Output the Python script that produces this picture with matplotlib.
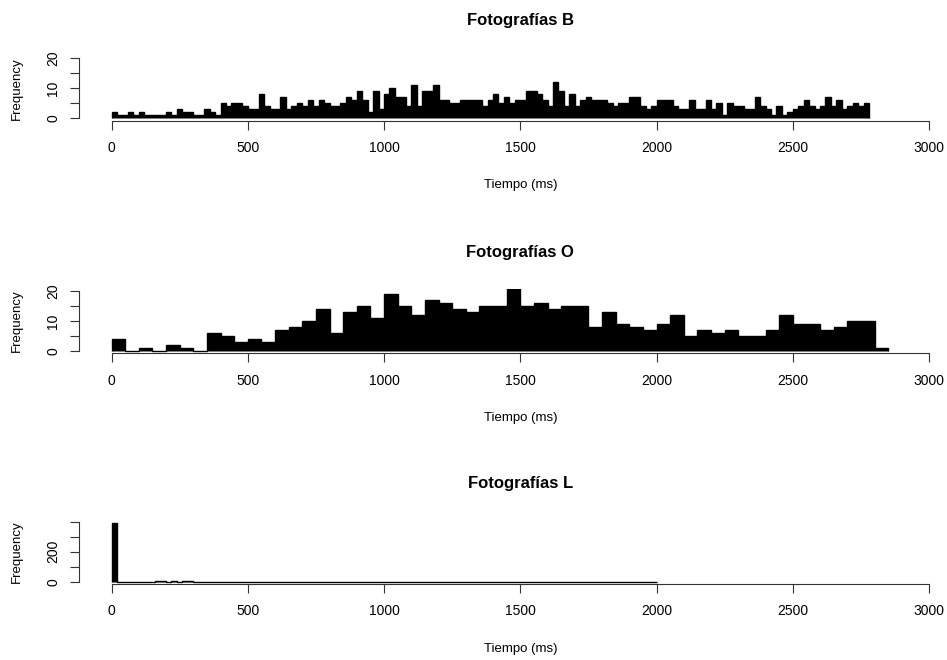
import numpy as np
import matplotlib
matplotlib.use("Agg")
import matplotlib.pyplot as plt

plt.rcParams['font.family'] = ['Liberation Sans', 'DejaVu Sans']

# conteos de cada histograma
ancho_b = 20
frec_b = [2, 1, 1, 2, 1, 2, 1, 1, 1, 1, 2, 1, 3, 2, 2, 1, 1, 3, 2, 1, 5, 4, 5, 5, 4,
          3, 3, 8, 4, 3, 3, 7, 3, 4, 5, 4, 6, 4, 6, 5, 4, 4, 5, 7, 6, 9, 6, 2, 9, 3,
          8, 10, 7, 7, 4, 11, 4, 9, 9, 11, 6, 6, 5, 5, 6, 6, 6, 6, 4, 6, 8, 5, 7, 5,
          6, 6, 9, 9, 8, 6, 4, 12, 9, 4, 8, 4, 6, 7, 6, 6, 6, 5, 4, 5, 5, 7, 7, 4, 3, 4,
          6, 6, 6, 4, 3, 3, 6, 3, 3, 6, 3, 5, 1, 5, 4, 4, 3, 3, 7, 4, 3, 1, 4, 1, 2,
          3, 4, 6, 4, 3, 4, 7, 4, 6, 3, 4, 5, 4, 5]

ancho_o = 50
frec_o = [4, 0, 1, 0, 2, 1, 0, 6, 5, 3, 4, 3, 7, 8, 10, 14, 6, 13, 15, 11,
          19, 15, 12, 17, 16, 14, 13, 15, 15, 21, 15, 16, 14, 15, 15, 8, 13, 9, 8, 7,
          9, 12, 5, 7, 6, 7, 5, 5, 7, 12, 9, 9, 7, 8, 10, 10, 1]

ancho_l = 20
frec_l = [390, 0, 0, 0, 0, 0, 0, 0, 8, 8, 0, 6, 0, 8, 8] + [0] * 85

titulos = ["Fotografías B", "Fotografías O", "Fotografías L"]
xticks = [0, 500, 1000, 1500, 2000, 2500, 3000]
yticks_bo = [0, 5, 10, 15, 20]
ylab_bo = ["0", "", "10", "", "20"]
yticks_l = [0, 100, 200, 300, 400]
ylab_l = ["0", "", "200", "", ""]

W, H = 947, 660
fig = plt.figure(figsize=(W / 100, H / 100), dpi=100)

izq, der = 78.8, 961.7
alto = 64.8
fondos = [120.7, 353.4, 584.1]

paneles = [(frec_b, ancho_b, 20, yticks_bo, ylab_bo),
           (frec_o, ancho_o, 20, yticks_bo, ylab_bo),
           (frec_l, ancho_l, 400, yticks_l, ylab_l)]

for i, (frec, ancho, ymax, yt, yl) in enumerate(paneles):
    ax = fig.add_axes([izq / W, 1 - fondos[i] / H, (der - izq) / W, alto / H])
    bordes = np.arange(len(frec) + 1) * ancho
    ax.stairs(frec, bordes, fill=True, facecolor='black', edgecolor='black',
              linewidth=1.0)
    ax.set_xlim(-0.04 * 3000, 3000 * 1.04)
    ax.set_ylim(-0.04 * ymax, ymax * 1.04)
    for s in ['top', 'right']:
        ax.spines[s].set_visible(False)
    ax.spines['bottom'].set_bounds(0, 3000)
    ax.spines['left'].set_bounds(0, ymax)
    ax.spines['bottom'].set_color('#333333')
    ax.spines['left'].set_color('#333333')
    ax.set_xticks(xticks)
    ax.set_xticklabels([str(t) for t in xticks])
    ax.set_yticks(yt)
    ax.set_yticklabels(yl, rotation=90, va='center')
    ax.tick_params(axis='x', length=6.5, width=0.8, color='#333333',
                   labelsize=10, pad=8)
    ax.tick_params(axis='y', length=6.5, width=0.8, color='#333333',
                   labelsize=10, pad=7)

    fondo = fondos[i]
    centro_x = (izq + der) / 2
    fig.text(centro_x / W, 1 - (fondo - 100.5) / H, titulos[i],
             ha='center', va='center', fontsize=12, fontweight='bold')
    fig.text(centro_x / W, 1 - (fondo + 64.5) / H, "Tiempo (ms)",
             ha='center', va='center', fontsize=9.5)
    fig.text(17 / W, 1 - (fondo - alto / 2) / H, "Frequency",
             ha='center', va='center', rotation=90, fontsize=9.5)

fig.savefig("out.png", dpi=100)
